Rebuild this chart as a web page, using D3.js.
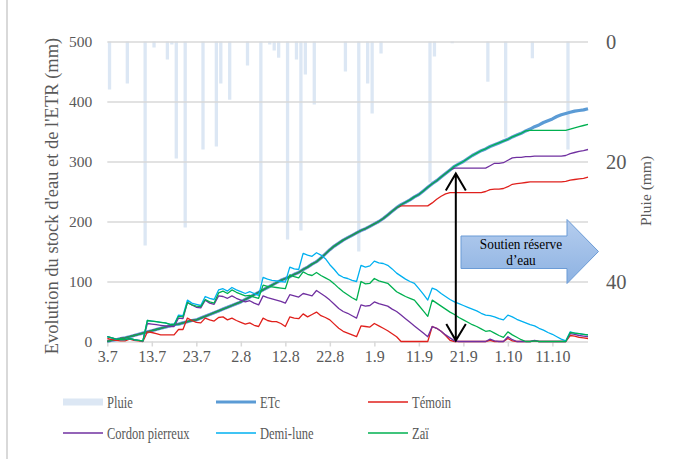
<!DOCTYPE html>
<html>
<head>
<meta charset="utf-8">
<script src="https://cdn.jsdelivr.net/npm/d3@7"></script>
<style>
  body { margin: 0; background: #fff; }
  svg { display: block; font-family: "Liberation Serif", "Times New Roman", serif; }
</style>
</head>
<body>
<svg id="chart" width="682" height="459"></svg>
<script>
// Daily series, day 0 = 3 July
const tickDays = [0, 10, 20, 30, 40, 50, 60, 70, 80, 90, 100];
const tickLabels = ["3.7", "13.7", "23.7", "2.8", "12.8", "22.8", "1.9", "11.9", "21.9", "1.10", "11.10"];
const leftTicks = [0, 100, 200, 300, 400, 500];
const rightTicks = [0, 20, 40];

// Rainfall events (day index, mm)
const rainDays = [0, 4, 8, 10, 13, 14, 15, 17, 21, 24, 25, 27, 31, 34, 36, 37, 38, 40, 42, 43, 44, 46, 53, 56, 58, 59, 61, 72, 73, 77, 85, 89, 95, 103];
const rainMm   = [8, 7, 34, 1, 3, 0.5, 19.5, 31, 18, 17.5, 7, 9.7, 4, 40, 0.5, 1.5, 2.7, 33, 3, 31.5, 5.5, 10.5, 5, 35, 7, 12, 2, 23.5, 2.5, 0.3, 6.7, 16, 2.8, 18];

// Cumulative crop evapotranspiration (mm)
const etc = [
  0, 2, 3, 5, 6, 8, 10, 12, 14, 16,
  18, 20, 22, 24, 26, 28, 29, 31, 33, 35,
  36, 39, 42, 45, 48, 51, 54, 57, 60, 63,
  66, 70, 74, 78, 82, 86, 90, 94, 98, 102,
  105, 108, 112, 115, 120, 124, 129, 133, 139, 146,
  153, 159, 164, 169, 173, 177, 181, 185, 188, 192,
  196, 200, 205, 211, 217, 223, 228, 232, 236, 241,
  245, 251, 257, 263, 268, 274, 280, 286, 292, 296,
  300, 305, 310, 314, 318, 321, 325, 328, 331, 334,
  337, 341, 344, 347, 351, 354, 358, 361, 365, 368,
  371, 375, 378, 380, 382, 384, 385, 386, 388
];

// Cumulative actual evapotranspiration per treatment (mm)
const etrTemoin = [
  0, 2, 3, 5, 6, 8, 10, 12, 14, 16,
  18, 20, 22, 24, 26, 28, 29, 31, 33, 35,
  36, 39, 42, 45, 48, 51, 54, 57, 60, 63,
  66, 70, 74, 78, 82, 86, 90, 94, 98, 102,
  105, 108, 112, 115, 120, 124, 129, 133, 139, 146,
  153, 159, 164, 169, 173, 177, 181, 185, 188, 192,
  196, 200, 205, 211, 217, 223, 226, 226, 226, 226,
  226, 226, 226, 231, 237, 242, 246, 248, 248, 248,
  248, 248, 248, 248, 248, 250, 253, 254, 254, 255,
  258, 262, 263, 264, 265, 266, 266, 266, 266, 266,
  266, 266, 266, 267, 269, 270, 271, 272, 274
];
const etrCordon = [
  0, 2, 3, 5, 6, 8, 10, 12, 14, 16,
  18, 20, 22, 24, 26, 28, 29, 31, 33, 35,
  36, 39, 42, 45, 48, 51, 54, 57, 60, 63,
  66, 70, 74, 78, 82, 86, 90, 94, 98, 102,
  105, 108, 112, 115, 120, 124, 129, 133, 139, 146,
  153, 159, 164, 169, 173, 177, 181, 185, 188, 192,
  196, 200, 205, 211, 217, 223, 228, 232, 236, 241,
  245, 251, 257, 263, 268, 274, 280, 286, 289, 289,
  289, 289, 289, 289, 289, 289, 293, 297, 297, 298,
  302, 306, 307, 307, 308, 308, 309, 309, 309, 309,
  309, 309, 309, 310, 313, 315, 317, 318, 320
];
const etrZai = [
  0, 2, 3, 5, 6, 8, 10, 12, 14, 16,
  18, 20, 22, 24, 26, 28, 29, 31, 33, 35,
  36, 39, 42, 45, 48, 51, 54, 57, 60, 63,
  66, 70, 74, 78, 82, 86, 90, 94, 98, 102,
  105, 108, 112, 115, 120, 124, 129, 133, 139, 146,
  153, 159, 164, 169, 173, 177, 181, 185, 188, 192,
  196, 200, 205, 211, 217, 223, 228, 232, 236, 241,
  245, 251, 257, 263, 268, 274, 280, 286, 292, 296,
  300, 305, 310, 314, 318, 321, 325, 328, 331, 334,
  337, 341, 344, 347, 351, 352, 352, 352, 352, 352,
  352, 352, 352, 352, 354, 356, 358, 360, 362
];

// Soil water stock per treatment (mm)
const stockTemoin = [
  5, 3, 2, 1, 1, 4, 2, 1, 0, 16,
  15, 13, 11, 11, 11, 11, 20, 20, 39, 35,
  32, 31, 39, 36, 34, 40, 41, 36, 39, 35,
  32, 29, 31, 27, 25, 39, 35, 33, 33, 30,
  25, 41, 39, 38, 46, 41, 45, 49, 43, 40,
  36, 29, 22, 17, 14, 11, 8, 26, 25, 24,
  30, 26, 22, 18, 13, 8, 0, 0, 0, 0,
  0, 0, 0, 25, 22, 17, 10, 2, 0, 0,
  0, 0, 0, 0, 0, 0, 2, 0, 0, 0,
  5, 1, 0, 0, 0, 0, 1, 0, 0, 0,
  0, 0, 0, 0, 10, 9, 7, 6, 5
];
const stockCordon = [
  8, 6, 4, 3, 3, 5, 3, 2, 1, 30,
  29, 28, 27, 26, 25, 25, 39, 38, 65, 61,
  57, 56, 69, 64, 62, 76, 75, 72, 76, 72,
  69, 66, 68, 64, 61, 76, 73, 71, 69, 67,
  64, 78, 76, 74, 80, 78, 76, 85, 80, 75,
  69, 62, 55, 50, 47, 43, 39, 61, 59, 60,
  66, 63, 61, 59, 54, 50, 44, 38, 32, 26,
  20, 14, 8, 25, 22, 17, 11, 6, 1, 0,
  0, 0, 0, 0, 0, 0, 4, 1, 0, 0,
  8, 3, 0, 0, 0, 0, 2, 0, 0, 0,
  0, 0, 0, 0, 13, 12, 10, 9, 8
];
const stockDemiLune = [
  8, 6, 4, 3, 3, 5, 3, 2, 1, 35,
  34, 33, 32, 31, 29, 28, 44, 43, 69, 64,
  62, 60, 75, 72, 70, 86, 88, 84, 90, 86,
  83, 80, 83, 80, 77, 107, 104, 102, 101, 100,
  99, 124, 121, 120, 147, 144, 142, 148, 144, 138,
  128, 120, 111, 107, 105, 102, 100, 127, 124, 126,
  134, 131, 130, 127, 121, 114, 109, 104, 100, 97,
  88, 79, 69, 89, 86, 80, 75, 70, 66, 63,
  60, 57, 54, 51, 47, 44, 43, 41, 38, 36,
  44, 41, 37, 34, 31, 28, 26, 22, 19, 15,
  12, 8, 4, 1, 16, 14, 13, 12, 11
];
const stockZai = [
  8, 6, 4, 3, 3, 5, 3, 2, 1, 35,
  34, 33, 32, 31, 29, 28, 42, 41, 65, 61,
  59, 58, 70, 66, 64, 81, 84, 80, 86, 82,
  79, 76, 77, 74, 72, 94, 92, 91, 90, 89,
  88, 111, 108, 106, 116, 112, 110, 115, 110, 106,
  102, 96, 89, 83, 78, 73, 69, 100, 96, 97,
  105, 101, 99, 97, 90, 83, 79, 75, 72, 69,
  60, 51, 42, 69, 64, 59, 54, 49, 45, 40,
  36, 32, 28, 25, 21, 17, 18, 14, 10, 7,
  16, 11, 7, 3, 0, 0, 1, 0, 0, 0,
  0, 0, 0, 0, 15, 14, 13, 12, 11
];

const colors = {
  rain: "#dce7f4",
  etc: "#5b9bd5",
  temoin: "#e0201c",
  cordon: "#7030a0",
  demiLune: "#00b0f0",
  zai: "#00b050",
  grid: "#d9d9d9",
  text: "#595959"
};

const svg = d3.select("#chart");
const x = d3.scaleLinear().domain([0, 108]).range([107.3, 588]);
const y = d3.scaleLinear().domain([0, 500]).range([341.5, 41.5]);
const yRain = d3.scaleLinear().domain([0, 50]).range([41.5, 341.5]);
const step = x(1) - x(0);

// frame edge on the left
svg.append("line").attr("x1", 7).attr("x2", 7).attr("y1", 0).attr("y2", 459)
  .attr("stroke", "#d9d9d9").attr("stroke-width", 2);

// rain columns hanging from the top (reversed secondary axis)
svg.append("g").selectAll("rect").data(rainDays).join("rect")
  .attr("x", (d) => x(d + 0.5) - step * 0.37)
  .attr("width", step * 0.74)
  .attr("y", yRain(0))
  .attr("height", (d, i) => yRain(rainMm[i]) - yRain(0))
  .attr("fill", colors.rain);

// horizontal gridlines
const grid = svg.append("g").attr("transform", `translate(${x(0)},0)`)
  .call(d3.axisLeft(y).tickValues(leftTicks).tickSize(-(x(108) - x(0))).tickFormat(""));
grid.select(".domain").remove();
grid.selectAll("line").attr("stroke", colors.grid).attr("stroke-width", 1.6);

// left axis labels
const gl = svg.append("g").attr("transform", `translate(${x(0)},0)`)
  .call(d3.axisLeft(y).tickValues(leftTicks).tickSize(0).tickPadding(15));
gl.select(".domain").remove();
gl.selectAll("text").attr("font-family", "Liberation Serif").attr("font-size", 15.5).attr("fill", colors.text);

// right (rain) axis labels
const gr = svg.append("g").attr("transform", `translate(${x(108)},0)`)
  .call(d3.axisRight(yRain).tickValues(rightTicks).tickSize(0).tickPadding(18));
gr.select(".domain").remove();
gr.selectAll("text").attr("font-family", "Liberation Serif").attr("font-size", 20.5).attr("fill", colors.text);

// bottom axis
const gb = svg.append("g").attr("transform", `translate(0,${y(0)})`)
  .call(d3.axisBottom(x).tickValues(tickDays).tickFormat((d, i) => tickLabels[i]).tickSize(5).tickPadding(4));
gb.select(".domain").remove();
gb.selectAll("line").attr("stroke", colors.grid).attr("stroke-width", 1.5);
gb.selectAll("text").attr("font-family", "Liberation Serif").attr("font-size", 16).attr("fill", colors.text);

// axis titles
svg.append("text")
  .attr("transform", "translate(52,196) rotate(-90)")
  .attr("text-anchor", "middle").attr("dominant-baseline", "central")
  .attr("font-size", 18.5).attr("fill", colors.text)
  .text("Evolution du stock d'eau et de l'ETR (mm)");
svg.append("text")
  .attr("transform", "translate(645,191) rotate(-90)")
  .attr("text-anchor", "middle").attr("dominant-baseline", "central")
  .attr("font-size", 15.5).attr("fill", colors.text)
  .text("Pluie (mm)");

const line = d3.line().x((d, i) => x(i)).y((d) => y(d));
const drawLine = (data, color, width) =>
  svg.append("path").datum(data).attr("d", line)
    .attr("fill", "none").attr("stroke", color).attr("stroke-width", width)
    .attr("stroke-linejoin", "round");

// cumulative ETc, then ETR of each treatment on top of it
drawLine(etc, colors.etc, 3.2);
drawLine(etrTemoin, colors.temoin, 1.3);
drawLine(etrCordon, colors.cordon, 1.3);
drawLine(etrZai, colors.zai, 1.3);

// water stock lines
drawLine(stockTemoin, colors.temoin, 1.3);
drawLine(stockCordon, colors.cordon, 1.3);
drawLine(stockDemiLune, colors.demiLune, 1.3);
drawLine(stockZai, colors.zai, 1.3);

// double-headed arrow marking the stock gap
const ax = x(78.3);
const aTop = 173.5, aBot = 340.5;
svg.append("path")
  .attr("d", `M${ax},${aTop}V${aBot}M${ax - 10},${aTop + 17}L${ax},${aTop}L${ax + 10},${aTop + 17}M${ax - 9.5},${aBot - 16.5}L${ax},${aBot}L${ax + 10},${aBot - 16.5}`)
  .attr("fill", "none").attr("stroke", "#000").attr("stroke-width", 2);

// block arrow with label
const defs = svg.append("defs");
const grad = defs.append("linearGradient").attr("id", "arrowFill").attr("x1", 0).attr("y1", 0).attr("x2", 0).attr("y2", 1);
grad.append("stop").attr("offset", "0%").attr("stop-color", "#b5cdee");
grad.append("stop").attr("offset", "100%").attr("stop-color", "#8db2e2");
const bx0 = 461, bx1 = 567, btip = 598.5, by0 = 236, by1 = 268.5, hy0 = 219.5, hy1 = 283.5;
svg.append("path")
  .attr("d", `M${bx0},${by0}H${bx1}V${hy0}L${btip},${(hy0 + hy1) / 2}L${bx1},${hy1}V${by1}H${bx0}Z`)
  .attr("fill", "url(#arrowFill)").attr("stroke", "#6b9bd6").attr("stroke-width", 1);
const boxText = svg.append("g").attr("font-size", 14).attr("fill", "#000").attr("text-anchor", "middle");
boxText.append("text").attr("transform", "translate(521,249) scale(0.95,1)").text("Soutien réserve");
boxText.append("text").attr("transform", "translate(521,265) scale(0.95,1)").text("d’eau");

// legend
const legendItems = [
  { label: "Pluie", kind: "rect", color: colors.rain },
  { label: "ETc", kind: "line", color: colors.etc, width: 3.2 },
  { label: "Témoin", kind: "line", color: colors.temoin, width: 1.3 },
  { label: "Cordon pierreux", kind: "line", color: colors.cordon, width: 1.3 },
  { label: "Demi-lune", kind: "line", color: colors.demiLune, width: 1.3 },
  { label: "Zaï", kind: "line", color: colors.zai, width: 1.3 }
];
const legendCols = [63, 216, 368];
const legendRows = [402, 433];
const lg = svg.append("g");
legendItems.forEach((item, i) => {
  const lx = legendCols[i % 3];
  const ly = legendRows[Math.floor(i / 3)];
  if (item.kind === "rect") {
    lg.append("rect").attr("x", lx).attr("y", ly - 3.5).attr("width", 40).attr("height", 7).attr("fill", item.color);
  } else {
    lg.append("line").attr("x1", lx).attr("x2", lx + 40).attr("y1", ly).attr("y2", ly)
      .attr("stroke", item.color).attr("stroke-width", item.width);
  }
  lg.append("text")
    .attr("transform", `translate(${lx + 44},${ly + 5.5}) scale(0.76,1)`)
    .attr("font-size", 16.5).attr("fill", colors.text)
    .text(item.label);
});
</script>
</body>
</html>
